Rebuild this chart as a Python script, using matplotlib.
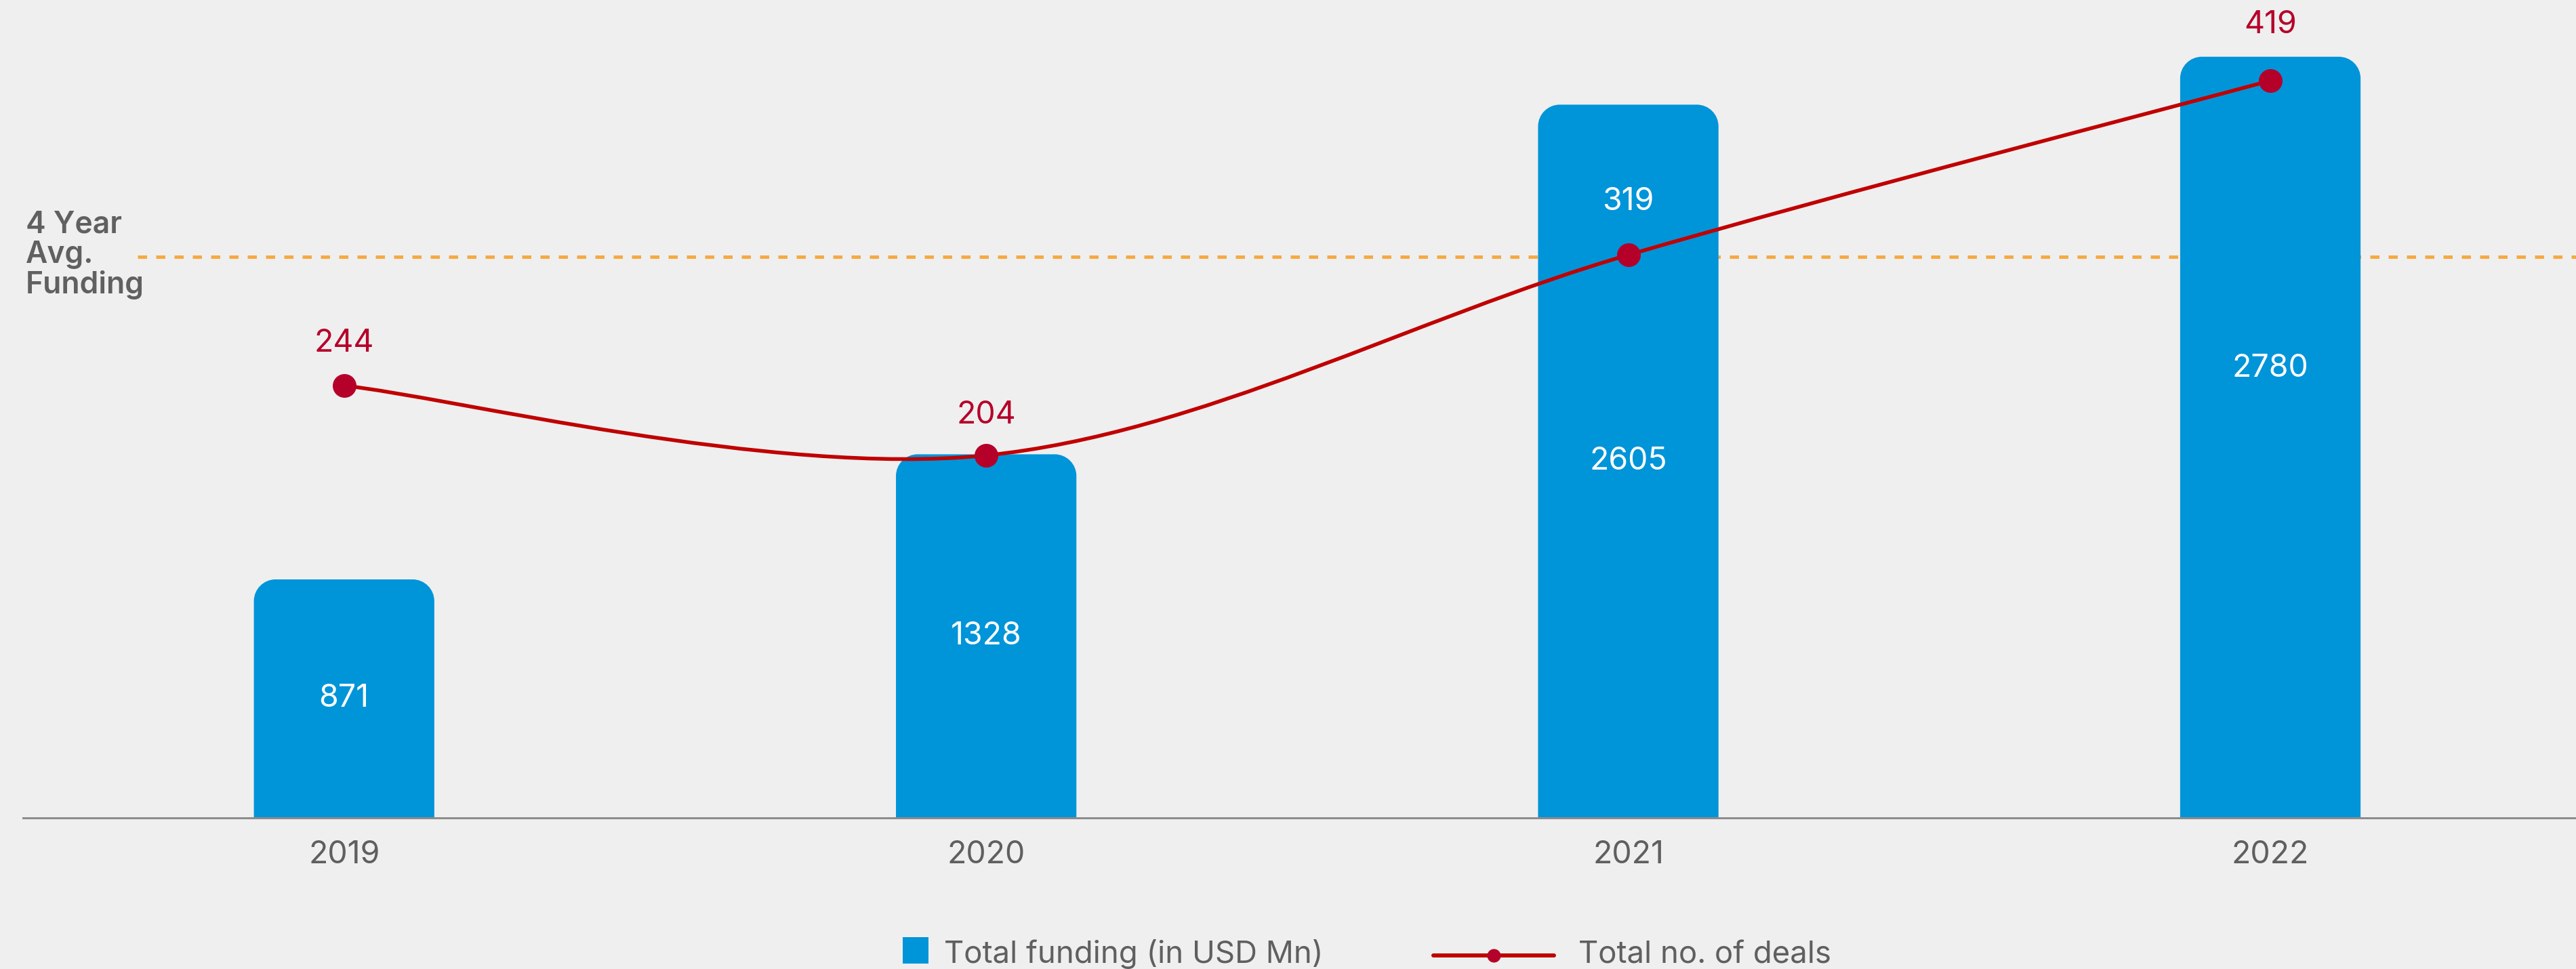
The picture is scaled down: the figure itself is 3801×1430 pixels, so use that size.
import numpy as np
import matplotlib.pyplot as plt
from matplotlib.path import Path
from matplotlib.patches import PathPatch, Rectangle
from matplotlib.lines import Line2D

# data
years = ['2019', '2020', '2021', '2022']
funding = [871, 1328, 2605, 2780]          # total funding, USD Mn
deals = [244, 204, 319, 419]               # total no. of deals
avg_funding_level = 2050                   # level of the "4 Year Avg. Funding" guide

# where each funding label sits inside its bar (fraction of bar height)
funding_label_frac = [0.5, 0.5, 0.5, 0.59]
# distance of the deal labels above their markers, in pixels
deal_label_offset_px = [62, 59, 78, 82]

BG = '#EFEFEF'
BAR_BLUE = '#0094D9'
LINE_RED = '#C00000'
DOT_RED = '#B5002A'
TEXT_GREY = '#5F5F5F'
AVG_ORANGE = '#F7A941'

plt.rcParams['font.family'] = ['Inter', 'DejaVu Sans']
FS = 33.5      # numbers
FS_TXT = 32    # side label
FS_LEG = 32.8  # legend

W, H, DPI = 3801, 1430, 100
PT = DPI / 72.0   # pixels per point

fig = plt.figure(figsize=(W / DPI, H / DPI), dpi=DPI, facecolor=BG)


def fx(px):
    return px / W


def fy(py):
    return 1 - py / H


# plot area: baseline at y=1207px, top at 30px, full width from 34px
ax = fig.add_axes([fx(34), fy(1207), fx(W - 34), (1207 - 30) / H])
ax.set_facecolor(BG)
ax.set_xlim(-0.5, 3.476)
ax.set_ylim(0, 2913)

ax2 = ax.twinx()
ax2.set_ylim(-4.0, 453.6)
ax2.axis('off')

for s in ['top', 'left', 'right']:
    ax.spines[s].set_visible(False)
ax.spines['bottom'].set_color('#8C8C8C')
ax.spines['bottom'].set_linewidth(3 / PT)
ax.set_yticks([])

x = np.arange(len(years))
ax.set_xticks(x, years)
ax.tick_params(axis='x', length=0, pad=24, labelsize=FS, labelcolor=TEXT_GREY)


def rounded_top_bar(ax, xc, width, height, radius_px, **kw):
    # bar with rounded top corners; radius is given in pixels so the
    # corners stay circular despite the different x/y scales
    t = ax.transData
    sx = t.transform((1, 0))[0] - t.transform((0, 0))[0]
    sy = t.transform((0, 1))[1] - t.transform((0, 0))[1]
    rx, ry = radius_px / sx, radius_px / sy
    k = 0.5523
    x0, x1 = xc - width / 2, xc + width / 2
    verts = [(x0, 0), (x0, height - ry),
             (x0, height - ry + k * ry), (x0 + rx - k * rx, height), (x0 + rx, height),
             (x1 - rx, height),
             (x1 - rx + k * rx, height), (x1, height - ry + k * ry), (x1, height - ry),
             (x1, 0), (x0, 0)]
    codes = [Path.MOVETO, Path.LINETO,
             Path.CURVE4, Path.CURVE4, Path.CURVE4,
             Path.LINETO,
             Path.CURVE4, Path.CURVE4, Path.CURVE4,
             Path.LINETO, Path.CLOSEPOLY]
    patch = PathPatch(Path(verts, codes), **kw)
    ax.add_patch(patch)
    return patch


def smooth_path(xs, ys):
    # Catmull-Rom style spline through the points, as cubic Bezier segments
    pts = np.column_stack([xs, ys]).astype(float)
    n = len(pts)
    verts = [tuple(pts[0])]
    codes = [Path.MOVETO]
    for i in range(n - 1):
        p0 = pts[i - 1] if i > 0 else pts[i]
        p1, p2 = pts[i], pts[i + 1]
        p3 = pts[i + 2] if i + 2 < n else pts[i + 1]
        c1 = p1 + (p2 - p0) / 6
        c2 = p2 - (p3 - p1) / 6
        verts += [tuple(c1), tuple(c2), tuple(p2)]
        codes += [Path.CURVE4] * 3
    return Path(verts, codes)


# average funding guide, behind the bars
ax.axhline(avg_funding_level, xmin=0.0449, xmax=1, color=AVG_ORANGE,
           lw=5 / PT, linestyle=(0, (2.7, 2.7)), zorder=1)

bar_w = 0.281
for i, v in enumerate(funding):
    rounded_top_bar(ax, x[i], bar_w, v, 32, facecolor=BAR_BLUE,
                    edgecolor='none', zorder=2)
    ax.text(x[i], v * funding_label_frac[i], str(v), ha='center', va='center',
            fontsize=FS, color='white', zorder=3)

# deals line
ax2.add_patch(PathPatch(smooth_path(x, deals), fill=False, edgecolor=LINE_RED,
                        lw=5.5 / PT, capstyle='round', zorder=4))
ax2.plot(x, deals, 'o', ms=35 / PT, color=DOT_RED, mec='none', zorder=5)

for i, d in enumerate(deals):
    ypx = ax2.transData.transform((x[i], d))[1] + deal_label_offset_px[i]
    in_bar = ax.transData.inverted().transform((0, ypx))[1] < funding[i]
    ax2.annotate(str(d), (x[i], d), xytext=(0, deal_label_offset_px[i] / PT),
                 textcoords='offset points', ha='center', va='center',
                 fontsize=FS, color='white' if in_bar else DOT_RED, zorder=6)

# label of the average guide
for j, line in enumerate(['4 Year', 'Avg.', 'Funding']):
    fig.text(fx(38), fy(343 + 45 * j), line, ha='left', va='baseline',
             fontsize=FS_TXT, fontweight='semibold', color='#606060')

# legend
fig.patches.append(Rectangle((fx(1332), fy(1422)), fx(38), 39 / H,
                             transform=fig.transFigure, facecolor=BAR_BLUE,
                             edgecolor='none'))
fig.text(fx(1393), fy(1421), 'Total funding (in USD Mn)', ha='left',
         va='baseline', fontsize=FS_LEG, color=TEXT_GREY)
fig.lines.append(Line2D([fx(2115), fx(2293)], [fy(1410), fy(1410)],
                        transform=fig.transFigure, color=LINE_RED,
                        lw=6 / PT, solid_capstyle='round'))
fig.lines.append(Line2D([fx(2204)], [fy(1410)], transform=fig.transFigure,
                        marker='o', ms=20 / PT, color=DOT_RED, mec='none'))
fig.text(fx(2329), fy(1421), 'Total no. of deals', ha='left', va='baseline',
         fontsize=FS_LEG, color=TEXT_GREY)

fig.savefig('out.png', dpi=DPI, facecolor=BG)
